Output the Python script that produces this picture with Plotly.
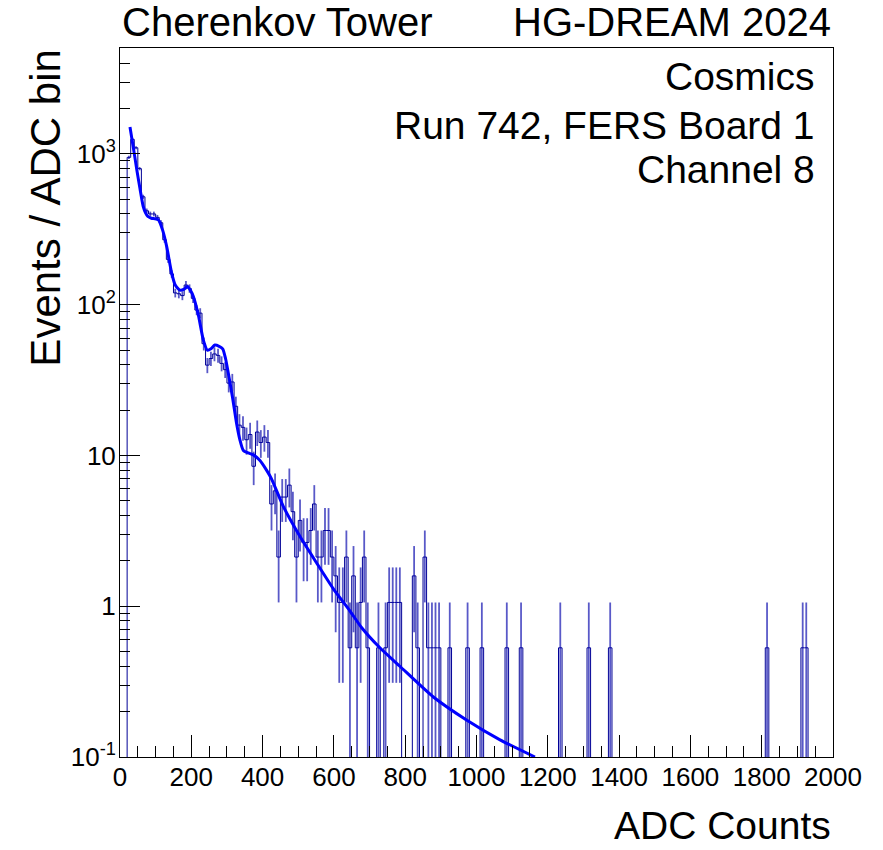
import plotly.graph_objects as go

# ---- histogram: 10 ADC-count bins, raw entries per bin ----
BIN_WIDTH = 10
X_MAX = 2000
EVENT_WEIGHT = 0.53  # weight carried by each entry

# contiguous block of bins starting at ADC 20
dense_start = 20
dense_counts = [
    1792, 2358, 2075, 1509, 981, 792, 755, 755, 717, 660,
    509, 377, 302, 226, 223, 217, 255, 242, 208, 174,
    166, 104, 75, 83, 89, 87, 77, 70, 57, 58,
    40, 30, 29, 24, 26, 16, 27, 23, 25, 23,
    9, 11, 4, 10, 10, 12, 8, 4, 7, 5,
    5, 6, 9, 4, 4, 6, 6, 4, 3, 2,
    2, 4, 1, 3, 1, 2, 4, 1, 0, 0,
    1, 0, 1, 2, 2, 2, 2, 0, 0, 0,
    3, 1, 0, 4, 1, 1, 1, 1, 0, 0,
    1,
]

# isolated bins in the tail (lower edge, entries)
tail_edges = [970, 1010, 1080, 1120, 1230, 1310, 1370, 1810, 1910, 1920]
tail_counts = [1, 1, 1, 1, 1, 1, 1, 1, 1, 1]

# ---- fitted response curve ----
fit_adc = [28, 38, 47, 56, 65, 72, 78, 88, 98, 108, 120, 131, 145, 155, 168,
           180, 189, 198, 206, 220, 234, 245, 255, 266, 278, 288, 296, 304,
           316, 327, 336, 346, 360, 374, 392, 411, 425, 458, 505, 552, 598,
           645, 678, 729, 785, 879, 972, 1066, 1164]
fit_val = [1510, 1080, 790, 590, 450, 405, 385, 375, 372, 365, 310, 243, 162,
           135, 125, 127, 132, 124, 113, 85, 58, 50, 51, 54, 53, 51, 44, 35,
           24, 16.3, 12.8, 10.8, 10.4, 10.1, 9.3, 8.0, 7.0, 4.6, 2.9, 1.93,
           1.31, 0.93, 0.72, 0.53, 0.40, 0.25, 0.176, 0.13, 0.1]

# ---- labels ----
title_left = "Cherenkov Tower"
title_right = "HG-DREAM 2024"
info_lines = ["Cosmics", "Run 742, FERS Board 1", "Channel 8"]
x_title = "ADC Counts"
y_title = "Events / ADC bin"
y_tick_vals = [0.1, 1, 10, 100, 1000]
y_tick_text = ["10<sup>-1</sup>", "1", "10", "10<sup>2</sup>", "10<sup>3</sup>"]

# ---- build full binned arrays ----
n_bins = X_MAX // BIN_WIDTH
counts = [0] * n_bins
for i, c in enumerate(dense_counts):
    counts[dense_start // BIN_WIDTH + i] = c
for e, c in zip(tail_edges, tail_counts):
    counts[e // BIN_WIDTH] = c

edges = [i * BIN_WIDTH for i in range(n_bins + 1)]
values = [c * EVENT_WEIGHT for c in counts]
FLOOR = 1e-4  # empty bins drop below the visible range
step_y = [v if v > 0 else FLOOR for v in values] + [values[-1] if values[-1] > 0 else FLOOR]

centers = [edges[i] + BIN_WIDTH / 2 for i in range(n_bins) if counts[i] > 0]
filled = [values[i] for i in range(n_bins) if counts[i] > 0]
errs = [(counts[i] ** 0.5) * EVENT_WEIGHT for i in range(n_bins) if counts[i] > 0]

FONT = "Liberation Sans, Arial, Helvetica, sans-serif"
NAVY = "#000096"

fig = go.Figure()

# histogram outline
fig.add_trace(go.Scatter(
    x=edges, y=step_y, mode="lines", line=dict(color=NAVY, width=1, shape="hv"),
    hoverinfo="skip", showlegend=False,
))

# statistical error bars
fig.add_trace(go.Scatter(
    x=centers, y=filled, mode="markers",
    marker=dict(size=1, color="rgba(0,0,0,0)"),
    error_y=dict(type="data", array=errs, arrayminus=errs, visible=True,
                 color="rgba(0,0,170,0.65)", thickness=1.8, width=0),
    showlegend=False,
))

# fit curve
fig.add_trace(go.Scatter(
    x=fit_adc, y=fit_val, mode="lines",
    line=dict(color="#0000ff", width=3, shape="spline", smoothing=0.6),
    showlegend=False,
))

minor_y = []
for d in [0.1, 1, 10, 100, 1000]:
    for k in range(2, 10):
        if k * d <= 5000:
            minor_y.append(k * d)

fig.update_layout(
    width=883, height=850,
    margin=dict(l=120, r=50, t=48, b=93),
    paper_bgcolor="white", plot_bgcolor="white",
    font=dict(family=FONT, color="black", size=26),
    xaxis=dict(
        range=[0, X_MAX], showgrid=False, zeroline=False,
        showline=True, linecolor="black", linewidth=1, mirror=True,
        tickmode="linear", tick0=0, dtick=200,
        ticks="inside", ticklen=22, tickwidth=1, tickcolor="black",
        minor=dict(dtick=50, ticks="inside", ticklen=11, tickwidth=1, tickcolor="black"),
        tickfont=dict(size=26, family=FONT, color="black"),
        ticklabelstandoff=-3,
    ),
    yaxis=dict(
        type="log", range=[-1, 3.703], showgrid=False, zeroline=False,
        showline=True, linecolor="black", linewidth=1, mirror=True,
        tickmode="array", tickvals=y_tick_vals, ticktext=y_tick_text,
        ticks="inside", ticklen=20, tickwidth=1, tickcolor="black",
        minor=dict(tickmode="array", tickvals=minor_y, ticks="inside",
                   ticklen=10, tickwidth=1, tickcolor="black"),
        tickfont=dict(size=26, family=FONT, color="black"),
        ticklabelstandoff=-2,
    ),
)

ann = [
    dict(text=title_left, x=0, xanchor="left", y=1.037, yanchor="middle", font=dict(size=40)),
    dict(text=title_right, x=1.0, xanchor="right", y=1.037, yanchor="middle", font=dict(size=40)),
    dict(text=x_title, x=1.0, xanchor="right", y=-0.0973, yanchor="middle", font=dict(size=39)),
    dict(text=y_title, x=-0.105, xanchor="center", y=1.0, yanchor="top", textangle=-90,
         font=dict(size=42)),
]
info_y = [76, 125, 170]
for txt, py in zip(info_lines, info_y):
    ann.append(dict(text=txt, x=0.9776, xanchor="right",
                    y=(757 - py) / 709, yanchor="middle", font=dict(size=39)))
for a in ann:
    a.update(xref="paper", yref="paper", showarrow=False)
    a["font"].update(family=FONT, color="black")
fig.update_layout(annotations=ann)

fig.write_html("out.html")
